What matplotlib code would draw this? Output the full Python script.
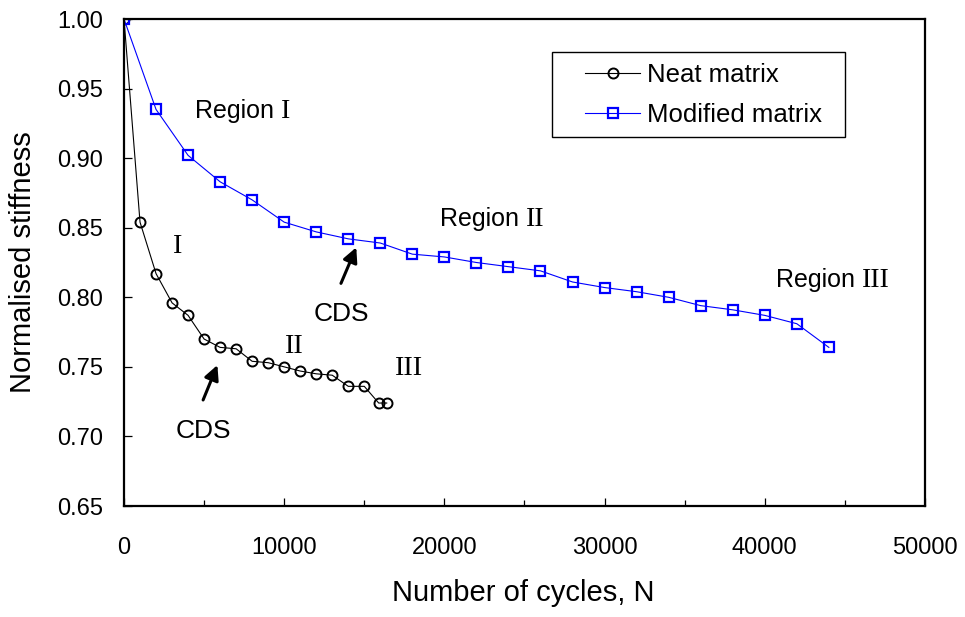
import matplotlib
matplotlib.use("Agg")
import matplotlib.pyplot as plt
from matplotlib.patches import Rectangle
from matplotlib.ticker import MultipleLocator

plt.rcParams['font.family'] = ['Liberation Sans', 'DejaVu Sans']

# ---- data ----
neat_cycles = [0, 1000, 2000, 3000, 4000, 5000, 6000, 7000, 8000, 9000,
               10000, 11000, 12000, 13000, 14000, 15000, 15900, 16400]
neat_stiffness = [1.000, 0.854, 0.817, 0.796, 0.787, 0.770, 0.764, 0.763,
                  0.754, 0.753, 0.750, 0.747, 0.745, 0.744, 0.736, 0.736,
                  0.724, 0.724]

mod_cycles = [0, 2000, 4000, 6000, 8000, 10000, 12000, 14000, 16000, 18000,
              20000, 22000, 24000, 26000, 28000, 30000, 32000, 34000, 36000,
              38000, 40000, 42000, 44000]
mod_stiffness = [1.000, 0.935, 0.902, 0.883, 0.870, 0.854, 0.847, 0.842,
                 0.839, 0.831, 0.829, 0.825, 0.822, 0.819, 0.811, 0.807,
                 0.804, 0.800, 0.794, 0.791, 0.787, 0.781, 0.764]

series_labels = ["Neat matrix", "Modified matrix"]
x_label = "Number of cycles, N"
y_label = "Normalised stiffness"

fig = plt.figure(figsize=(9.65, 6.17), dpi=100)
ax = fig.add_axes([0.1285, 0.1799, 0.8300, 0.7893])

ax.plot(neat_cycles, neat_stiffness, color='black', lw=0.8, marker='o',
        ms=7.2, mfc='none', mec='black', mew=1.4, label=series_labels[0])
ax.plot(mod_cycles, mod_stiffness, color='#0000ff', lw=0.8, marker='s',
        ms=7.4, mfc='none', mec='#0000ff', mew=1.6, label=series_labels[1])

ax.set_xlim(0, 50000)
ax.set_ylim(0.65, 1.00)
ax.xaxis.set_major_locator(MultipleLocator(10000))
ax.xaxis.set_minor_locator(MultipleLocator(5000))
ax.yaxis.set_major_locator(MultipleLocator(0.05))
ax.yaxis.set_major_formatter(plt.FormatStrFormatter('%.2f'))

ax.tick_params(axis='x', which='major', direction='in', length=6, width=0.9,
               labelsize=17, pad=22)
ax.tick_params(axis='x', which='minor', direction='in', length=4.5, width=0.9)
ax.tick_params(axis='y', which='major', direction='in', length=6, width=0.9,
               labelsize=17, pad=15)
for s in ax.spines.values():
    s.set_linewidth(1.6)

ax.set_xlabel(x_label, fontsize=21, va='center')
ax.xaxis.set_label_coords(0.4988, -0.1786)
ax.set_ylabel(y_label, fontsize=21, va='center')
ax.yaxis.set_label_coords(-0.1261, 0.5)

# legend
ax.add_patch(Rectangle((0.534, 0.757), 0.366, 0.1758, transform=ax.transAxes,
                       fill=False, ec='black', lw=1.0, zorder=5))
ax.legend(loc='upper left', bbox_to_anchor=(0.5755, 0.910), frameon=False,
          borderpad=0, borderaxespad=0, fontsize=18.5, handlelength=2.15,
          handletextpad=0.25, labelspacing=0.62)

serif = 'Liberation Serif'

def region_text(x, y, numeral):
    t = ax.text(x, y, "Region ", fontsize=18, ha='left', va='baseline')
    ax.annotate(numeral, xy=(1, y), xycoords=(t, 'data'), fontsize=20,
                family=serif, ha='left', va='baseline')

region_text(4437, 0.9286, "I")
region_text(19750, 0.8512, "II")
region_text(40687, 0.8072, "III")

ax.text(3312, 0.8316, "I", fontsize=20.5, family=serif, ha='center', va='baseline')
ax.text(10583, 0.7602, "II", fontsize=20.5, family=serif, ha='center', va='baseline')
ax.text(17718, 0.7441, "III", fontsize=20.5, family=serif, ha='center', va='baseline')

ax.text(4937, 0.6987, "CDS", fontsize=19, ha='center', va='baseline')
ax.text(13562, 0.7832, "CDS", fontsize=19, ha='center', va='baseline')

arrow = dict(arrowstyle='-|>', color='black', lw=2.2, mutation_scale=22,
             shrinkA=0, shrinkB=0)
ax.annotate("", xy=(5831, 0.7513), xytext=(4938, 0.7262), arrowprops=arrow)
ax.annotate("", xy=(14500, 0.8359), xytext=(13544, 0.8100), arrowprops=arrow)

fig.savefig("out.png", dpi=100)
